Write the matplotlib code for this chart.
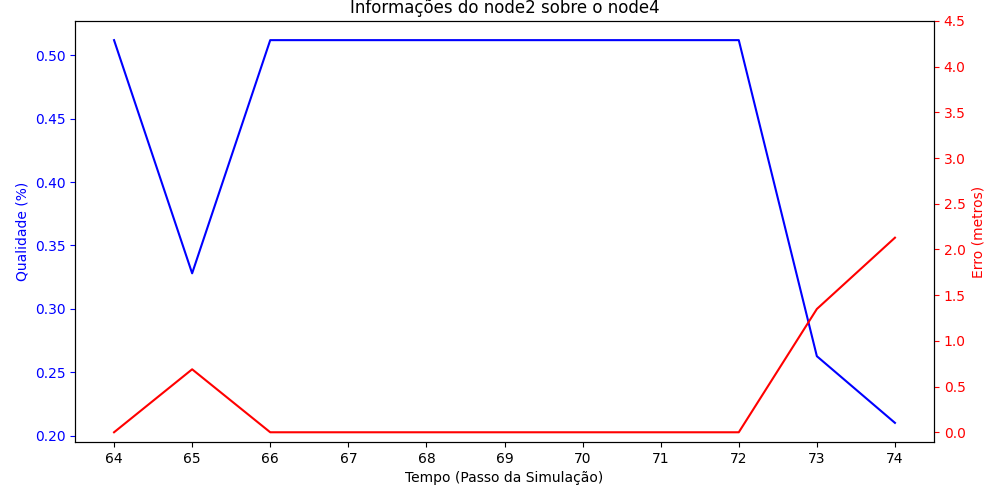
import matplotlib
matplotlib.use("Agg")
import matplotlib.pyplot as plt
from matplotlib.ticker import MultipleLocator

tempo = [64, 65, 66, 67, 68, 69, 70, 71, 72, 73, 74]
qualidade = [0.512, 0.328, 0.512, 0.512, 0.512, 0.512, 0.512, 0.512, 0.512, 0.2626, 0.210]
erro = [0.0, 0.689, 0.0, 0.0, 0.0, 0.0, 0.0, 0.0, 0.0, 1.349, 2.129]

fig, ax1 = plt.subplots(figsize=(10, 5), dpi=100)
fig.subplots_adjust(left=0.075, right=0.934, bottom=0.116, top=0.958)

ax1.plot(tempo, qualidade, color="blue", linewidth=1.5)
ax1.set_xlabel("Tempo (Passo da Simulação)")
ax1.set_ylabel("Qualidade (%)", color="blue")
ax1.tick_params(axis="y", colors="blue")
ax1.set_xticks(tempo)
ax1.set_title("Informações do node2 sobre o node4")

ax2 = ax1.twinx()
ax2.plot(tempo, erro, color="red", linewidth=1.5)
ax2.set_ylabel("Erro (metros)", color="red")
ax2.tick_params(axis="y", colors="red")
ax2.set_ylim(top=4.5)
ax2.yaxis.set_major_locator(MultipleLocator(0.5))

fig.savefig("out.png", dpi=100)
